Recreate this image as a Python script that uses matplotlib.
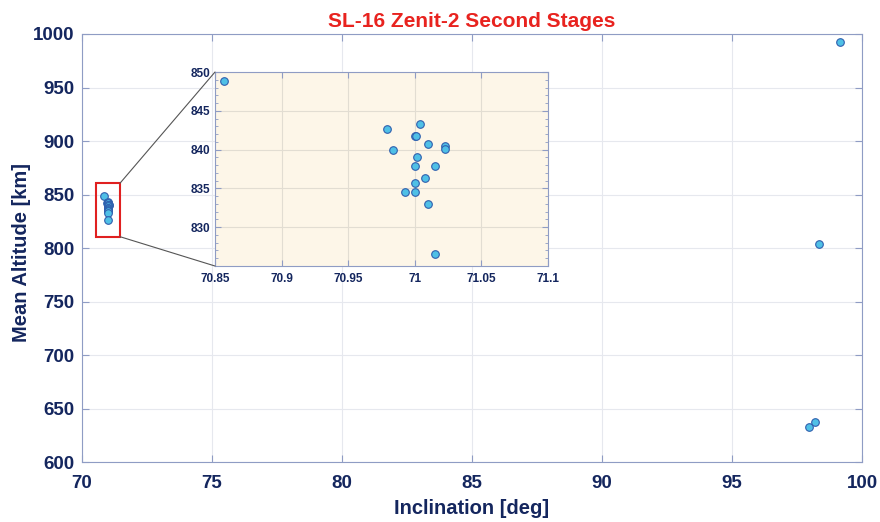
import matplotlib
matplotlib.use("Agg")
import matplotlib.pyplot as plt
from matplotlib.patches import Rectangle, ConnectionPatch
from matplotlib.ticker import AutoMinorLocator

plt.rcParams['font.family'] = ['Liberation Sans', 'DejaVu Sans']

# data
incl = [70.857, 70.979, 71.004, 71.000, 71.001, 71.010, 71.023, 71.023, 70.984,
        71.002, 71.000, 71.015, 71.008, 71.000, 70.993, 71.000, 71.010, 71.015,
        97.95, 98.19, 98.35, 99.17]
alt = [848.9, 842.6, 843.3, 841.7, 841.7, 840.7, 840.5, 840.1, 839.9,
       839.0, 837.9, 837.9, 836.3, 835.7, 834.5, 834.6, 833.0, 826.5,
       633.3, 637.9, 804.2, 992.8]

navy = "#14265e"
edge = "#8f9cc4"
face = "#4fc0e6"
mk_edge = "#2f5fae"
gridc = "#e6e8ee"

fig = plt.figure(figsize=(8.8, 5.22), dpi=100)
ax = fig.add_axes([0.0932, 0.1144, 0.8864, 0.8205])
ax.scatter(incl, alt, s=30, c=face, edgecolors=mk_edge, linewidths=0.8, zorder=3)
ax.set_xlim(70, 100)
ax.set_ylim(600, 1000)
ax.set_xticks(range(70, 101, 5))
ax.set_yticks(range(600, 1001, 50))
ax.grid(True, color=gridc, linewidth=0.8)
ax.tick_params(direction='in', length=5, color=edge, labelcolor=navy,
               labelsize=13.5, top=True, right=True)
ax.tick_params(axis='x', pad=9)
ax.tick_params(axis='y', pad=5.5)
for lab in ax.get_xticklabels() + ax.get_yticklabels():
    lab.set_fontweight('bold')
for s in ax.spines.values():
    s.set_color(edge)
ax.set_xlabel("Inclination [deg]", fontsize=14.5, fontweight='bold', color=navy, labelpad=5)
ax.set_ylabel("Mean Altitude [km]", fontsize=14.5, fontweight='bold', color=navy)
ax.yaxis.set_label_coords(-0.066, 0.49)
ax.set_title("SL-16 Zenit-2 Second Stages", fontsize=15, fontweight='bold',
             color="#e8231f", pad=5)

# zoom box
rx0, rx1, ry0, ry1 = 70.54, 71.46, 810.7, 860.6
ax.add_patch(Rectangle((rx0, ry0), rx1 - rx0, ry1 - ry0, fill=False,
                       edgecolor="#e02020", linewidth=1.5, zorder=4))

# inset
ins = fig.add_axes([0.2443, 0.4904, 0.3784, 0.3716])
ins.set_facecolor("#fdf6e8")
ins.scatter(incl, alt, s=30, c=face, edgecolors=mk_edge, linewidths=0.8, zorder=3)
ins.set_xlim(70.85, 71.1)
ins.set_ylim(825, 850)
ins.set_xticks([70.85, 70.9, 70.95, 71, 71.05, 71.1])
ins.set_xticklabels(["70.85", "70.9", "70.95", "71", "71.05", "71.1"])
ins.set_yticks([830, 835, 840, 845, 850])
ins.yaxis.set_minor_locator(AutoMinorLocator(5))
ins.grid(True, color="#e2ddd2", linewidth=0.8)
ins.tick_params(direction='in', length=4, color=edge, labelcolor=navy,
                labelsize=8.5, top=True, right=True)
ins.tick_params(axis='x', pad=5)
ins.tick_params(which='minor', direction='in', length=2, color=edge, right=True, left=True)
for lab in ins.get_xticklabels() + ins.get_yticklabels():
    lab.set_fontweight('bold')
for s in ins.spines.values():
    s.set_color(edge)

for (ya, yb) in [(ry1, 850), (ry0, 825)]:
    con = ConnectionPatch(xyA=(rx1, ya), coordsA=ax.transData,
                          xyB=(70.85, yb), coordsB=ins.transData,
                          color="#555555", linewidth=0.8)
    fig.add_artist(con)

fig.savefig("out.png", dpi=100)
